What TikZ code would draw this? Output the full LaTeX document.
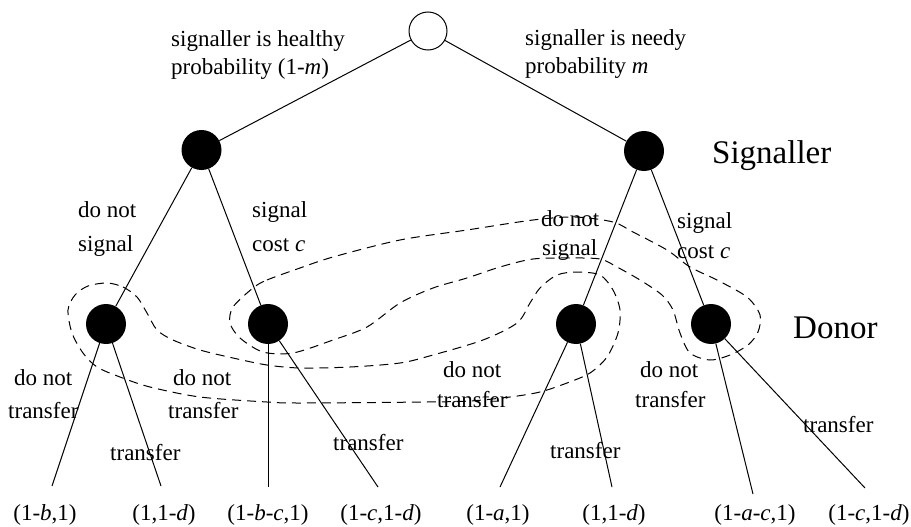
\documentclass[tikz,border=0pt]{standalone}
\usepackage{fontspec}
\setmainfont{Liberation Serif}
\begin{document}
\begin{tikzpicture}[x=1pt,y=-1pt,
  chance/.style={circle,draw,fill=white,minimum size=38pt,inner sep=0pt,line width=1pt},
  dec/.style={circle,fill=black,minimum size=40pt,inner sep=0pt},
  lbl/.style={anchor=base west,inner sep=0pt,font=\fontsize{23}{27}\selectfont},
  big/.style={anchor=base west,inner sep=0pt,font=\fontsize{33}{38}\selectfont},
  leaf/.style={anchor=base,inner sep=0pt,font=\fontsize{23}{27}\selectfont},
  edge/.style={line width=1pt},
  info/.style={line width=1pt,dash pattern=on 9pt off 6pt}]
\useasboundingbox (0,0) rectangle (911,527);

% information sets
\draw[info] plot[smooth cycle, tension=0.5] coordinates {
  (107,283) (123,287) (137,297) (147,313) (157,330) (173,340) (200,350)
  (233,358) (267,365) (300,368) (350,367) (400,363) (433,355) (483,340)
  (517,323) (530,303) (540,288) (557,275) (577,272) (600,275) (613,290)
  (620,310) (618,333) (607,357) (590,373) (567,383) (540,392) (510,397)
  (470,401) (427,402) (300,403) (267,402) (200,397) (150,387) (120,377)
  (97,367) (83,353) (72,333) (68,310) (75,295) (88,286)};
\draw[info] plot[smooth cycle, tension=0.5] coordinates {
  (253,288) (267,280) (300,268) (333,257) (400,240) (467,230) (533,220)
  (575,217) (613,222) (633,232) (667,250) (690,267) (717,280) (747,297)
  (760,315) (758,332) (748,345) (730,355) (710,360) (690,353) (680,333)
  (673,310) (662,295) (640,280) (617,267) (600,259) (570,258) (533,259)
  (500,267) (467,278) (433,288) (400,303) (367,327) (333,340) (293,353)
  (263,352) (240,338) (230,323) (233,307)};

% nodes
\node[chance] (root) at (428,31) {};
\node[dec] (s1) at (201.5,150) {};
\node[dec] (s2) at (644,151) {};
\node[dec] (d1) at (106,324) {};
\node[dec] (d2) at (268,324) {};
\node[dec] (d3) at (576,324) {};
\node[dec] (d4) at (711,324) {};

\coordinate (e1) at (52,486);
\coordinate (e2) at (161,486);
\coordinate (e3) at (268,487);
\coordinate (e4) at (378,487);
\coordinate (e5) at (500,487);
\coordinate (e6) at (612,487);
\coordinate (e7) at (753,494);
\coordinate (e8) at (865,488);

\draw[edge] (root) -- (s1);
\draw[edge] (root) -- (s2);
\draw[edge] (s1) -- (d1);
\draw[edge] (s1) -- (d2);
\draw[edge] (s2) -- (d3);
\draw[edge] (s2) -- (d4);
\draw[edge] (d1) -- (e1);
\draw[edge] (d1) -- (e2);
\draw[edge] (d2) -- (e3);
\draw[edge] (d2) -- (e4);
\draw[edge] (d3) -- (e5);
\draw[edge] (d3) -- (e6);
\draw[edge] (d4) -- (e7);
\draw[edge] (d4) -- (e8);

% labels
\node[lbl] (t1) at (171,47) {signaller is healthy};
\node[lbl] (t2) at (171,75) {probability (1-\textit{m})};
\node[lbl] (t3) at (525,46) {signaller is needy};
\node[lbl] (t4) at (525,74) {probability \textit{m}};
\node[big] (sig) at (712,163) {Signaller};
\node[big] (don) at (793,338) {Donor};

\node[lbl] (a1) at (78,217) {do not};
\node[lbl] (a2) at (78,251) {signal};
\node[lbl] (a3) at (252,217) {signal};
\node[lbl] (a4) at (252,251) {cost \textit{c}};
\node[lbl] (a5) at (541,226) {do not};
\node[lbl] (a6) at (542,255) {signal};
\node[lbl] (a7) at (677,228) {signal};
\node[lbl] (a8) at (677,258) {cost \textit{c}};

\node[lbl] (b1) at (14,385) {do not};
\node[lbl] (b2) at (8,418) {transfer};
\node[lbl] (b3) at (110,460) {transfer};
\node[lbl] (b4) at (173,385) {do not};
\node[lbl] (b5) at (168,418) {transfer};
\node[lbl] (b6) at (333,450) {transfer};
\node[lbl] (b7) at (443,377) {do not};
\node[lbl] (b8) at (437,407) {transfer};
\node[lbl] (b9) at (550,458) {transfer};
\node[lbl] (b10) at (640,377) {do not};
\node[lbl] (b11) at (635,407) {transfer};
\node[lbl] (b12) at (803,432) {transfer};

\node[leaf] (p1) at (45,520) {(1-\textit{b},1)};
\node[leaf] (p2) at (164,520) {(1,1-\textit{d})};
\node[leaf] (p3) at (268,520) {(1-\textit{b}-\textit{c},1)};
\node[leaf] (p4) at (381,520) {(1-\textit{c},1-\textit{d})};
\node[leaf] (p5) at (498,520) {(1-\textit{a},1)};
\node[leaf] (p6) at (614,520) {(1,1-\textit{d})};
\node[leaf] (p7) at (755,520) {(1-\textit{a}-\textit{c},1)};
\node[leaf] (p8) at (869,520) {(1-\textit{c},1-\textit{d})};
\end{tikzpicture}
\end{document}
